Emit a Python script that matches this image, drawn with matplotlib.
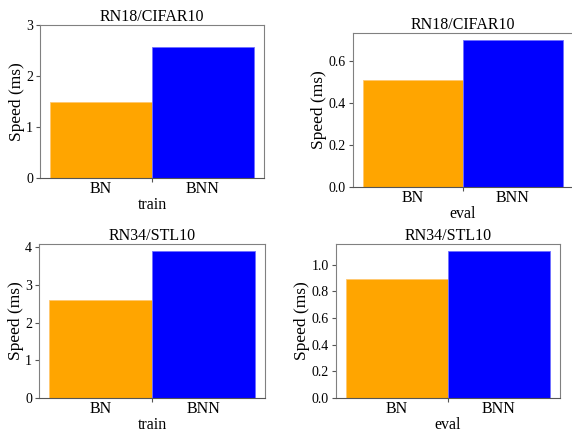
import matplotlib
matplotlib.use("Agg")
import matplotlib.pyplot as plt
from matplotlib.ticker import MultipleLocator

plt.rcParams['font.family'] = ['Liberation Serif', 'DejaVu Serif']

methods = ['BN', 'BNN']
colors = ['#FFA500', '#0000FF']
titles = ['RN18/CIFAR10', 'RN18/CIFAR10', 'RN34/STL10', 'RN34/STL10']
modes = ['train', 'eval', 'train', 'eval']
speeds_rn18_train = [1.50, 2.56]
speeds_rn18_eval = [0.51, 0.70]
speeds_rn34_train = [2.61, 3.89]
speeds_rn34_eval = [0.89, 1.10]
series = [speeds_rn18_train, speeds_rn18_eval, speeds_rn34_train, speeds_rn34_eval]
ytick_steps = [1, 0.2, 1, 0.2]

W, H = 572, 432
# axes rectangles in pixels: left, top, right, bottom
rects = [(40, 25, 264, 178), (353, 33, 573, 187), (39, 244, 265, 398), (336, 244, 560, 398)]

fig = plt.figure(figsize=(W / 100, H / 100), dpi=100)
for i, (l, t, r, b) in enumerate(rects):
    ax = fig.add_axes([l / W, (H - b) / H, (r - l) / W, (b - t) / H])
    x = list(range(len(methods)))
    ax.bar(x, series[i], width=1.0, color=colors, edgecolor=['#FFC870', '#7070FF'], linewidth=0.6)
    if i == 0:
        ax.set_ylim(0, 3)
    ax.yaxis.set_major_locator(MultipleLocator(ytick_steps[i]))
    if ytick_steps[i] < 1:
        ax.yaxis.set_major_formatter(plt.FormatStrFormatter('%.1f'))
    ax.set_xticks([0.5])
    ax.set_xticklabels([''])
    ax.set_xticks(x, minor=True)
    ax.set_xticklabels(methods, minor=True, fontsize=11.5)
    ax.tick_params(axis='x', which='minor', length=0, pad=2.5)
    ax.tick_params(axis='x', which='major', length=3, color='#555555')
    ax.tick_params(axis='y', labelsize=10, length=3, color='#555555', pad=2)
    ax.set_xlabel(modes[i], fontsize=11.5, labelpad=0)
    ax.set_ylabel('Speed (ms)', fontsize=12.5, labelpad=1)
    ax.set_title(titles[i], fontsize=11.5, pad=1)
    for s in ax.spines.values():
        s.set_color('#808080')
    ax.spines['bottom'].set_color('#555555')

fig.savefig('out.png', dpi=100)
